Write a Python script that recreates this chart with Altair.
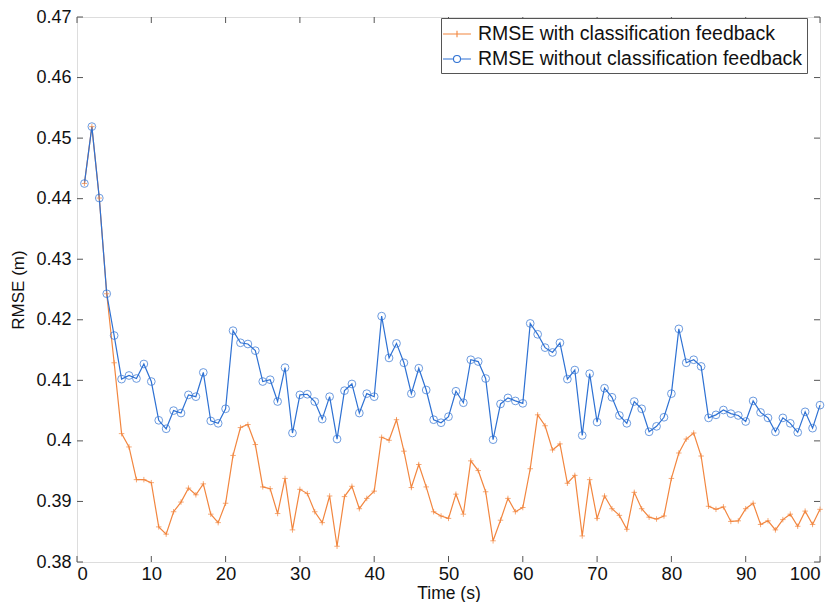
import altair as alt
import pandas as pd

t = list(range(1, 101))

rmse_without = [
    0.4425, 0.4519, 0.4401, 0.4243, 0.4174, 0.4102, 0.4108, 0.4103, 0.4127, 0.4098,
    0.4034, 0.4020, 0.4050, 0.4046, 0.4076, 0.4073, 0.4113, 0.4033, 0.4029, 0.4053,
    0.4182, 0.4162, 0.4160, 0.4149, 0.4098, 0.4101, 0.4065, 0.4121, 0.4013, 0.4076,
    0.4077, 0.4065, 0.4036, 0.4073, 0.4003, 0.4083, 0.4094, 0.4046, 0.4078, 0.4073,
    0.4206, 0.4137, 0.4161, 0.4129, 0.4078, 0.4120, 0.4084, 0.4035, 0.4030, 0.4040,
    0.4082, 0.4063, 0.4134, 0.4131, 0.4103, 0.4002, 0.4061, 0.4071, 0.4066, 0.4062,
    0.4194, 0.4176, 0.4154, 0.4146, 0.4162, 0.4102, 0.4117, 0.4009, 0.4111, 0.4031,
    0.4087, 0.4072, 0.4042, 0.4029, 0.4065, 0.4053, 0.4015, 0.4024, 0.4039, 0.4078,
    0.4185, 0.4129, 0.4134, 0.4123, 0.4038, 0.4043, 0.4051, 0.4045, 0.4042, 0.4032,
    0.4066, 0.4047, 0.4038, 0.4015, 0.4038, 0.4029, 0.4014, 0.4048, 0.4021, 0.4059,
]

rmse_with = [
    0.4425, 0.4519, 0.4401, 0.4243, 0.4129, 0.4012, 0.3990, 0.3936, 0.3936, 0.3931,
    0.3858, 0.3846, 0.3883, 0.3899, 0.3922, 0.3911, 0.3929, 0.3879, 0.3865, 0.3897,
    0.3976, 0.4022, 0.4027, 0.3994, 0.3924, 0.3921, 0.3880, 0.3938, 0.3853, 0.3920,
    0.3913, 0.3883, 0.3865, 0.3909, 0.3826, 0.3908, 0.3925, 0.3888, 0.3905, 0.3917,
    0.4006, 0.4001, 0.4035, 0.3983, 0.3923, 0.3961, 0.3924, 0.3883, 0.3876, 0.3872,
    0.3912, 0.3879, 0.3967, 0.3951, 0.3916, 0.3835, 0.3869, 0.3905, 0.3883, 0.3890,
    0.3954, 0.4043, 0.4025, 0.3985, 0.3995, 0.3930, 0.3943, 0.3843, 0.3936, 0.3872,
    0.3909, 0.3888, 0.3877, 0.3854, 0.3915, 0.3888, 0.3874, 0.3871, 0.3876, 0.3938,
    0.3980, 0.4003, 0.4013, 0.3975, 0.3892, 0.3887, 0.3891, 0.3867, 0.3868, 0.3888,
    0.3897, 0.3862, 0.3868, 0.3853, 0.3870, 0.3879, 0.3859, 0.3884, 0.3862, 0.3887,
]

series_names = ["RMSE with classification feedback", "RMSE without classification feedback"]
series_colors = ["#f2863f", "#2e71d3"]
x_ticks = [0, 10, 20, 30, 40, 50, 60, 70, 80, 90, 100]
y_ticks = [0.38, 0.39, 0.40, 0.41, 0.42, 0.43, 0.44, 0.45, 0.46, 0.47]

df_with = pd.DataFrame({"t": t, "value": rmse_with, "series": series_names[0]})
df_without = pd.DataFrame({"t": t, "value": rmse_without, "series": series_names[1]})
df = pd.concat([df_with, df_without])
xt_df = pd.DataFrame({"t": x_ticks})
yt_df = pd.DataFrame({"value": y_ticks})

W, H = 743, 545
FONT = "Liberation Sans"
TXT = "#111"

xs = alt.Scale(domain=[0, 100], nice=False)
ys = alt.Scale(domain=[0.38, 0.47], nice=False, zero=False)
cs = alt.Scale(domain=series_names, range=series_colors)

x_axis = alt.Axis(
    orient="bottom", values=x_ticks, title="Time (s)", ticks=False, domain=False, grid=False,
    labelPadding=2, labelFontSize=18.5, titleFontSize=17.5, titleFontWeight="normal",
    titlePadding=2, labelColor=TXT, titleColor=TXT, labelFont=FONT, titleFont=FONT)
y_axis = alt.Axis(
    orient="left", values=y_ticks, format="~g", title="RMSE (m)", ticks=False, domain=False,
    grid=False, labelPadding=6, labelFontSize=18, titleFontSize=17, titleFontWeight="normal",
    titlePadding=8, labelColor=TXT, titleColor=TXT, labelFont=FONT, titleFont=FONT)
X = alt.X("t:Q", scale=xs, axis=x_axis)
Y = alt.Y("value:Q", scale=ys, axis=y_axis)

line_with = alt.Chart(df_with).mark_line(strokeWidth=1.2, color=series_colors[0]).encode(x=X, y=Y)
line_without = alt.Chart(df_without).mark_line(strokeWidth=1.2, color=series_colors[1]).encode(x=X, y=Y)

plus_path = "M-1,0H1M0,-1V1"
pts_with = alt.Chart(df_with).mark_point(
    shape=plus_path, size=30, filled=False, color=series_colors[0], strokeWidth=1
).encode(x=X, y=Y)
pts_without = alt.Chart(df_without).mark_point(
    shape="circle", size=60, filled=False, color=series_colors[1], strokeWidth=1
).encode(x=X, y=Y)

leg_plus = "M-1.27,0H1.27M0,-0.3V0.3"
leg_circ = "M-1.27,0H-0.32M0.32,0H1.27M0.32,0A0.32,0.32,0,1,1,-0.32,0A0.32,0.32,0,1,1,0.32,0"
legend_def = dict(
    orient="none", legendX=364, legendY=1, title=None, padding=4,
    strokeColor="#555", fillColor="white", labelFontSize=19.5, labelFont=FONT,
    labelColor=TXT, labelLimit=0, symbolSize=484, symbolStrokeWidth=1.1, labelOffset=9,
    rowPadding=3,
)
legend_layer = alt.Chart(df).mark_point(opacity=0, filled=False).encode(
    x=X, y=Y,
    color=alt.Color("series:N", scale=cs, legend=alt.Legend(**legend_def)),
    shape=alt.Shape("series:N", scale=alt.Scale(domain=series_names, range=[leg_plus, leg_circ]),
                    legend=alt.Legend(**legend_def)),
)

TICK = 6
TC = "#555"
ticks_bottom = alt.Chart(xt_df).mark_rule(color=TC).encode(x=X, y=alt.value(H), y2=alt.value(H - TICK))
ticks_top = alt.Chart(xt_df).mark_rule(color=TC).encode(x=X, y=alt.value(0), y2=alt.value(TICK))
ticks_left = alt.Chart(yt_df).mark_rule(color=TC).encode(y=Y, x=alt.value(0), x2=alt.value(TICK))
ticks_right = alt.Chart(yt_df).mark_rule(color=TC).encode(y=Y, x=alt.value(W), x2=alt.value(W - TICK))

chart = alt.layer(
    line_with, line_without, pts_with, pts_without, legend_layer,
    ticks_bottom, ticks_top, ticks_left, ticks_right,
).properties(
    width=W, height=H,
    autosize=alt.AutoSizeParams(type="none"),
    padding={"left": 69, "top": 9, "right": 10, "bottom": 40},
).configure_view(stroke="#555", strokeWidth=1).configure(background="white")

chart.save("out.html", embed_options={"renderer": "svg", "actions": False})
